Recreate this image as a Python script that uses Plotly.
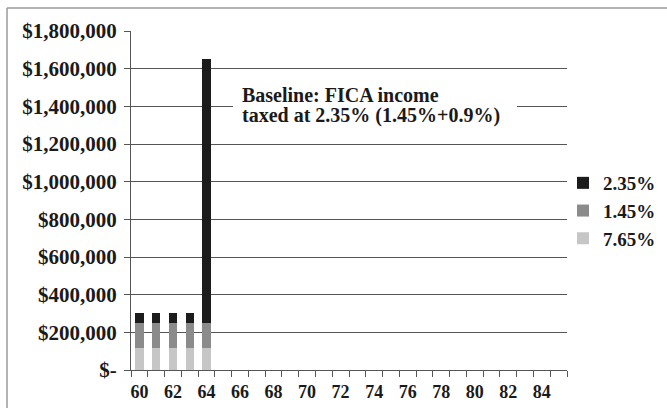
import plotly.graph_objects as go

# Ages on the x axis and income stacked by FICA tax rate
ages = list(range(60, 86))
tick_ages = list(range(60, 86, 2))
rate_765 = [118500] * 5 + [0] * 21
rate_145 = [131500] * 5 + [0] * 21
rate_235 = [52000] * 4 + [1400000] + [0] * 21

y_ticks = [0, 200000, 400000, 600000, 800000, 1000000, 1200000, 1400000, 1600000, 1800000]
y_labels = ["$-", "$200,000", "$400,000", "$600,000", "$800,000", "$1,000,000",
            "$1,200,000", "$1,400,000", "$1,600,000", "$1,800,000"]

note_lines = ["Baseline: FICA income", "taxed at 2.35% (1.45%+0.9%)"]

font_family = "Liberation Serif, Times New Roman, serif"
ink = "#1a1a1a"
grid = "#555555"
W, H = 667, 408
L, R, T, B = 131, 100, 31, 38

fig = go.Figure()
fig.add_trace(go.Bar(x=ages, y=rate_765, name="7.65%", marker_color="#c6c6c6",
                     marker_line_width=0, width=0.5))
fig.add_trace(go.Bar(x=ages, y=rate_145, name="1.45%", marker_color="#8b8b8b",
                     marker_line_width=0, width=0.5))
fig.add_trace(go.Bar(x=ages, y=rate_235, name="2.35%", marker_color="#1c1c1c",
                     marker_line_width=0, width=0.5))

pw, ph = W - L - R, H - T - B


def px_x(x):
    return (x - L) / pw


def px_y(y):
    return (H - B - y) / ph


annotations = [
    dict(xref="paper", yref="paper", x=px_x(240), y=px_y(yc),
         xanchor="left", yanchor="middle", align="left", text=line,
         showarrow=False,
         font=dict(family=font_family, size=20, color=ink, weight="bold"))
    for line, yc in zip(note_lines, [95, 115])
]

fig.update_layout(
    width=W, height=H,
    margin=dict(l=L, r=R, t=T, b=B, autoexpand=False),
    barmode="stack",
    paper_bgcolor="white",
    plot_bgcolor="white",
    font=dict(family=font_family, color=ink, size=18),
    legend=dict(
        x=px_x(563), y=px_y(164), xanchor="left", yanchor="top",
        traceorder="reversed",
        font=dict(family=font_family, size=19, color=ink, weight="bold"),
        itemwidth=30, bgcolor="rgba(0,0,0,0)",
    ),
    xaxis=dict(
        range=[59.5, 85.5],
        tickmode="array", tickvals=tick_ages, ticktext=[str(a) for a in tick_ages],
        ticks="", showgrid=False, zeroline=False,
        showline=True, linecolor=grid, linewidth=1,
        ticklabelstandoff=5,
        tickfont=dict(family=font_family, size=18, color=ink, weight="bold"),
        minor=dict(tickvals=[a - 0.5 for a in ages] + [85.5], ticks="outside",
                   ticklen=6, tickcolor=grid, tickwidth=1, showgrid=False),
    ),
    yaxis=dict(
        range=[0, 1800000],
        tickmode="array", tickvals=y_ticks, ticktext=y_labels,
        ticks="outside", ticklen=6, tickcolor=grid,
        showgrid=True, gridcolor=grid, gridwidth=1,
        showline=True, linecolor=grid, linewidth=1, zeroline=False,
        ticklabelstandoff=3,
        tickfont=dict(family=font_family, size=21, color=ink, weight="bold"),
    ),
    shapes=[
        # white box behind the note, breaking the gridline
        dict(type="rect", xref="paper", yref="paper", layer="above",
             x0=px_x(233), x1=px_x(517), y0=px_y(125), y1=px_y(84),
             fillcolor="white", line=dict(width=0)),
        # outer frame (top and left edges)
        dict(type="line", xref="paper", yref="paper",
             x0=px_x(7), x1=px_x(W + 5), y0=px_y(8), y1=px_y(8),
             line=dict(color="#9a9a9a", width=1.5)),
        dict(type="line", xref="paper", yref="paper",
             x0=px_x(7), x1=px_x(7), y0=px_y(8), y1=px_y(H + 5),
             line=dict(color="#9a9a9a", width=1.5)),
    ],
    annotations=annotations,
)

fig.write_html("out.html")
